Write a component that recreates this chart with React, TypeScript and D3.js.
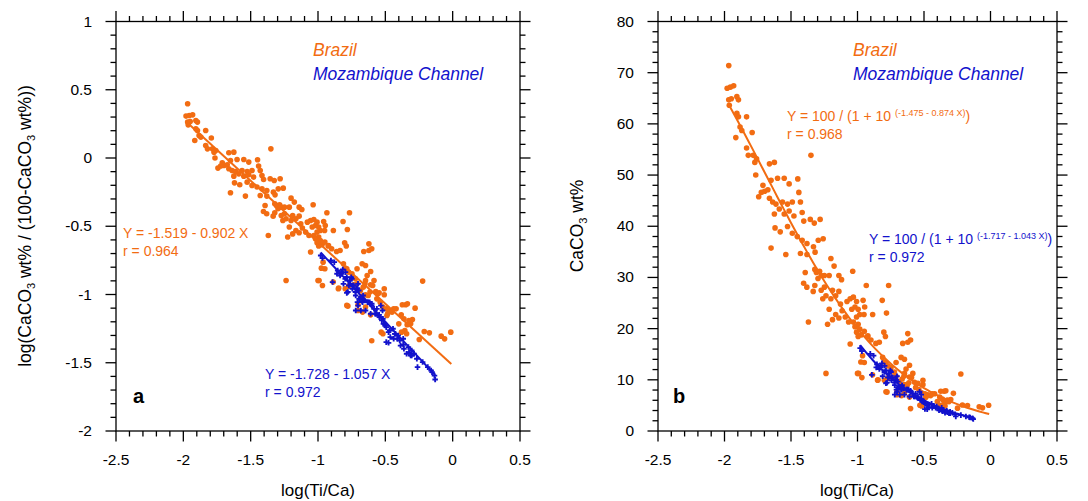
import React from 'react';
import * as d3 from 'd3';

const ORANGE = '#F26C12';
const BLUE = '#1212CC';
const FONT = '"Liberation Sans", Arial, Helvetica, sans-serif';

// Brazil samples: [log(Ti/Ca), log(CaCO3 / (100 - CaCO3))]
const brazilPoints: [number, number][] = [
  [-1.968,0.397],[-1.980,0.307],[-1.956,0.311],[-1.931,0.316],[-1.968,0.263],[-1.949,0.267],[-1.907,0.275],[-1.895,0.263],
  [-1.964,0.243],[-1.907,0.214],[-1.895,0.201],[-1.834,0.201],[-1.883,0.165],[-1.870,0.153],[-1.792,0.146],[-1.915,0.128],
  [-1.834,0.092],[-1.821,0.067],[-1.784,0.067],[-1.759,0.055],[-1.772,0.043],[-1.350,0.067],[-1.662,0.038],[-1.625,0.043],
  [-1.765,0.000],[-1.711,-0.035],[-1.698,-0.055],[-1.674,-0.050],[-1.650,-0.018],[-1.601,-0.011],[-1.551,-0.011],[-1.514,-0.030],
  [-1.449,-0.013],[-1.743,-0.074],[-1.723,-0.059],[-1.662,-0.079],[-1.638,-0.092],[-1.613,-0.099],[-1.564,-0.092],[-1.526,-0.099],
  [-1.490,-0.092],[-1.441,-0.059],[-1.625,-0.133],[-1.588,-0.116],[-1.551,-0.133],[-1.514,-0.123],[-1.478,-0.140],[-1.429,-0.092],
  [-1.416,-0.128],[-1.404,-0.158],[-1.355,-0.152],[-1.325,-0.165],[-1.281,-0.152],[-1.620,-0.182],[-1.581,-0.196],[-1.526,-0.177],
  [-1.490,-0.201],[-1.453,-0.213],[-1.416,-0.226],[-1.650,-0.255],[-1.539,-0.279],[-1.380,-0.238],[-1.331,-0.250],[-1.295,-0.226],
  [-1.258,-0.221],[-1.429,-0.275],[-1.380,-0.279],[-1.319,-0.270],
  [-1.176,-0.323],[-1.140,-0.360],[-1.120,-0.377],[-1.036,-0.343],[-1.200,-0.294],[-1.188,-0.421],[-1.164,-0.445],[-1.140,-0.426],
  [-1.200,-0.458],[-0.934,-0.401],[-0.766,-0.401],[-0.814,-0.465],[-0.782,-0.524],[-0.802,-0.621],[-0.790,-0.645],[-1.079,-0.470],
  [-1.055,-0.458],[-1.031,-0.451],[-1.007,-0.470],[-1.019,-0.495],[-1.043,-0.506],[-0.995,-0.506],[-0.983,-0.531],[-1.007,-0.543],
  [-1.031,-0.568],[-0.995,-0.579],[-1.019,-0.592],[-0.983,-0.604],[-1.007,-0.621],[-0.970,-0.636],[-0.995,-0.645],[-0.958,-0.465],
  [-0.946,-0.495],[-0.951,-0.531],[-0.886,-0.531],[-0.922,-0.641],[-1.128,-0.482],[-1.116,-0.513],[-1.092,-0.543],[-1.067,-0.568],
  [-1.164,-0.531],[-1.140,-0.548],[-1.188,-0.556],[-1.213,-0.506],[-1.225,-0.579],[-1.369,-0.568],[-1.261,-0.458],[-1.237,-0.445],
  [-1.249,-0.408],[-1.273,-0.421],[-1.321,-0.401],[-1.333,-0.426],[-1.381,-0.408],[-1.405,-0.392],[-1.393,-0.348],[-1.297,-0.372],
  [-1.273,-0.360],[-1.249,-0.360],[-1.213,-0.360],[-1.321,-0.336],[-1.309,-0.348],[-1.285,-0.343],
  [-0.622,-0.629],[-0.660,-0.685],[-0.622,-0.678],[-0.601,-0.665],[-0.949,-0.616],[-0.924,-0.645],[-0.899,-0.665],[-0.862,-0.685],
  [-0.836,-0.678],[-1.055,-0.689],[-0.962,-0.763],[-0.949,-0.811],[-0.975,-0.807],[-0.811,-0.775],[-0.798,-0.807],[-0.773,-0.836],
  [-0.786,-0.811],[-0.710,-0.811],[-0.672,-0.775],[-0.647,-0.788],[-0.609,-0.832],[-0.635,-0.861],[-0.647,-0.897],[-0.584,-0.897],
  [-0.609,-0.929],[-0.748,-0.848],[-0.722,-0.885],[-0.710,-0.922],[-0.735,-0.929],[-1.000,-0.897],[-0.887,-0.909],[-0.849,-0.958],
  [-0.798,-0.958],[-0.773,-0.939],[-0.685,-0.971],[-0.672,-1.012],[-0.647,-1.002],[-0.508,-0.958],[-0.508,-1.002],[-0.571,-0.978],
  [-0.546,-0.987],[-0.778,-1.085],[-0.703,-1.075],[-0.647,-1.092],[-0.609,-1.149],[-0.471,-1.117],[-0.420,-1.105],[-0.349,-1.075],
  [-0.483,-1.141],[-0.382,-1.149],
  [-1.237,-0.897],[-0.992,-0.897],[-0.967,-0.934],[-0.846,-0.953],[-0.786,-1.080],[-0.703,-1.117],[-0.669,-1.129],[-0.601,-1.339],
  [-0.374,-1.075],[-0.336,-1.068],[-0.279,-1.100],[-0.362,-1.178],[-0.325,-1.190],[-0.299,-1.183],[-0.312,-1.215],[-0.338,-1.222],
  [-0.223,-0.902],[-0.211,-1.271],[-0.173,-1.281],[-0.085,-1.305],[-0.060,-1.325],[-0.014,-1.276],[-0.248,-1.330],[-0.563,-1.032],
  [-0.538,-1.056],[-0.450,-1.129],[-0.438,-1.105],[-0.400,-1.215],[-0.488,-1.154],[-0.627,-1.007],[-0.614,-0.982],[-0.664,-0.946],
  [-0.651,-0.922],[-0.531,-1.276],[-0.518,-1.288],[-0.355,-1.264],[-0.342,-1.288],[-0.380,-1.276],[-0.594,-0.934],[-0.556,-0.995],
  [-0.518,-1.092],[-0.493,-1.105],
];

// Mozambique Channel samples: [log(Ti/Ca), log(CaCO3 / (100 - CaCO3))]
const mozambiquePoints: [number, number][] = [
  [-0.980,-0.714],[-0.967,-0.733],[-0.904,-0.751],[-0.879,-0.763],[-0.854,-0.824],[-0.828,-0.836],[-0.816,-0.817],[-0.892,-0.909],
  [-0.786,-0.873],[-0.766,-0.897],[-0.753,-0.873],[-0.778,-0.982],[-0.741,-0.934],[-0.715,-0.958],[-0.703,-0.922],[-0.690,-1.032],
  [-0.665,-1.007],[-0.652,-1.044],[-0.627,-1.056],[-0.601,-1.068],[-0.563,-1.105],[-0.551,-1.154],[-0.576,-1.141],[-0.526,-1.190],
  [-0.501,-1.227],[-0.514,-1.215],[-0.476,-1.276],[-0.476,-1.354],[-0.463,-1.312],[-0.438,-1.324],[-0.412,-1.324],[-0.425,-1.288],
  [-0.387,-1.374],[-0.362,-1.398],[-0.324,-1.422],[-0.312,-1.447],[-0.287,-1.434],[-0.261,-1.532],[-0.223,-1.495],[-0.185,-1.532],
  [-0.160,-1.557],[-0.135,-1.594],[-0.130,-1.623],
  [-0.824,-0.848],[-0.836,-0.861],[-0.798,-0.885],[-0.748,-0.885],[-0.760,-0.922],[-0.735,-0.934],[-0.786,-0.988],[-0.710,-0.953],
  [-0.697,-0.971],[-0.722,-0.982],[-0.685,-1.026],[-0.672,-1.051],[-0.660,-1.037],[-0.703,-1.081],[-0.616,-1.056],[-0.601,-1.081],
  [-0.584,-1.105],[-0.647,-1.117],[-0.609,-1.141],[-0.546,-1.149],[-0.521,-1.117],[-0.533,-1.081],
  [-0.859,-0.848],[-0.796,-0.836],[-0.811,-0.922],[-0.771,-0.934],[-0.745,-0.958],[-0.720,-1.007],[-0.695,-1.032],[-0.669,-1.056],
  [-0.707,-1.056],[-0.632,-1.056],[-0.682,-1.117],[-0.720,-1.117],[-0.569,-1.141],[-0.544,-1.166],[-0.518,-1.178],[-0.506,-1.215],
  [-0.493,-1.239],[-0.468,-1.264],[-0.443,-1.251],[-0.430,-1.288],[-0.493,-1.349],[-0.405,-1.300],[-0.393,-1.337],[-0.367,-1.324],
  [-0.367,-1.368],[-0.329,-1.385],[-0.304,-1.410],[-0.342,-1.434],[-0.304,-1.447],[-0.266,-1.471],[-0.153,-1.569],
];

// Regression fits (coefficients as printed) and the x ranges they span
const brazilLinFit = { a: -1.519, b: -0.902, r: 0.964 };
const mozLinFit = { a: -1.728, b: -1.057, r: 0.972 };
const brazilCurveFit = { a: -1.475, b: -0.874, r: 0.968 };
const mozCurveFit = { a: -1.717, b: -1.043, r: 0.972 };
const brazilRange: [number, number] = [-1.97, -0.01];
const mozRange: [number, number] = [-0.98, -0.13];

const xTicks = [-2.5, -2, -1.5, -1, -0.5, 0, 0.5];
const xTickLabels = ['-2.5', '-2', '-1.5', '-1', '-0.5', '0', '0.5'];
const aYTicks = [-2, -1.5, -1, -0.5, 0, 0.5, 1];
const aYTickLabels = ['-2', '-1.5', '-1', '-0.5', '0', '0.5', '1'];
const bYTicks = [0, 10, 20, 30, 40, 50, 60, 70, 80];
const bYTickLabels = ['0', '10', '20', '30', '40', '50', '60', '70', '80'];

const toCaCO3 = (lr: number) => (100 * Math.pow(10, lr)) / (1 + Math.pow(10, lr));

const TOP = 21.5;
const BOTTOM = 431;

function Frame({ x, y, yMinorStep, yTicks, yLabels }: any) {
  const [x0, x1] = x.range();
  const [y0, y1] = y.range();
  const xd = x.domain();
  const yd = y.domain();
  const xMinor = d3.range(Math.round(xd[0] * 10), Math.round(xd[1] * 10) + 1).map((v) => v / 10);
  const yMinor = d3.range(yd[0], yd[1] + yMinorStep / 2, yMinorStep);
  const MAJ = 10.5;
  const MIN = 5.5;
  const isMajorX = (v: number) => xTicks.some((t) => Math.abs(t - v) < 1e-6);
  const isMajorY = (v: number) => yTicks.some((t: number) => Math.abs(t - v) < 1e-6);
  return (
    <g stroke="#000" strokeWidth={1.3} fill="none">
      <rect x={x0} y={y1} width={x1 - x0} height={y0 - y1} />
      {xMinor.map((v, i) => {
        const len = isMajorX(v) ? MAJ : MIN;
        const px = x(v);
        return (
          <g key={'x' + i}>
            <line x1={px} x2={px} y1={y0} y2={y0 + len} />
            <line x1={px} x2={px} y1={y1} y2={y1 - len} />
          </g>
        );
      })}
      {yMinor.map((v: number, i: number) => {
        const len = isMajorY(v) ? MAJ : MIN;
        const py = y(v);
        return (
          <g key={'y' + i}>
            <line x1={x0} x2={x0 - len} y1={py} y2={py} />
            <line x1={x1} x2={x1 + len} y1={py} y2={py} />
          </g>
        );
      })}
      <g stroke="none" fill="#000" fontFamily={FONT} fontSize={15.5}>
        {xTicks.map((t, i) => (
          <text key={'xl' + i} x={x(t)} y={465} textAnchor="middle">{xTickLabels[i]}</text>
        ))}
        {yTicks.map((t: number, i: number) => (
          <text key={'yl' + i} x={x0 - 24} y={y(t) + 5} textAnchor="end">{yLabels[i]}</text>
        ))}
      </g>
    </g>
  );
}

export default function App() {
  const xa = d3.scaleLinear().domain([-2.5, 0.5]).range([116, 520]);
  const ya = d3.scaleLinear().domain([-2, 1]).range([BOTTOM, TOP]);
  const xb = d3.scaleLinear().domain([-2.5, 0.5]).range([658, 1057]);
  const yb = d3.scaleLinear().domain([0, 80]).range([BOTTOM, TOP]);

  const cross = d3.symbol().type(d3.symbolCross).size(17)() as string;

  const linA = (fit: any, range: [number, number]) =>
    d3.line<number>().x((v) => xa(v)).y((v) => ya(fit.a + fit.b * v))(range) as string;
  const curveB = (fit: any, range: [number, number]) => {
    const xs = d3.range(range[0], range[1] + 1e-9, (range[1] - range[0]) / 80);
    return d3
      .line<number>()
      .x((v) => xb(v))
      .y((v) => yb(100 / (1 + Math.pow(10, -(fit.a + fit.b * v)))))(xs) as string;
  };

  return (
    <svg width={1088} height={501} style={{ position: 'absolute', left: 0, top: 0, background: '#fff' }} fontFamily={FONT}>
      <rect x={0} y={0} width={1088} height={501} fill="#fff" />
      {/* Panel a */}
      <Frame x={xa} y={ya} yMinorStep={0.1} yTicks={aYTicks} yLabels={aYTickLabels} />
      <g fill={ORANGE}>
        {brazilPoints.map((p, i) => (
          <circle key={i} cx={xa(p[0])} cy={ya(p[1])} r={2.8} />
        ))}
      </g>
      <path d={linA(brazilLinFit, brazilRange)} stroke={ORANGE} strokeWidth={2} fill="none" />
      <g fill={BLUE}>
        {mozambiquePoints.map((p, i) => (
          <path key={i} d={cross} transform={`translate(${xa(p[0])},${ya(p[1])})`} />
        ))}
      </g>
      <path d={linA(mozLinFit, mozRange)} stroke={BLUE} strokeWidth={2} fill="none" />
      <text x={313} y={56} fill={ORANGE} fontSize={17.5} fontStyle="italic">Brazil</text>
      <text x={313} y={80} fill={BLUE} fontSize={17.5} fontStyle="italic">Mozambique Channel</text>
      <text x={123} y={238} fill={ORANGE} fontSize={14}>Y = -1.519 - 0.902 X</text>
      <text x={123} y={256} fill={ORANGE} fontSize={14}>r = {brazilLinFit.r.toFixed(3)}</text>
      <text x={265} y={379} fill={BLUE} fontSize={14}>Y = -1.728 - 1.057 X</text>
      <text x={265} y={397} fill={BLUE} fontSize={14}>r = {mozLinFit.r.toFixed(3)}</text>
      <text x={133} y={403} fill="#000" fontSize={20} fontWeight="bold">a</text>
      <text x={318} y={496} textAnchor="middle" fontSize={17}>log(Ti/Ca)</text>
      <text transform="translate(31,226) rotate(-90)" textAnchor="middle" fontSize={17.5}>
        log(CaCO<tspan fontSize={11} dy={4}>3</tspan><tspan dy={-4}> wt% / (100-CaCO</tspan><tspan fontSize={11} dy={4}>3</tspan><tspan dy={-4}> wt%))</tspan>
      </text>

      {/* Panel b */}
      <Frame x={xb} y={yb} yMinorStep={2} yTicks={bYTicks} yLabels={bYTickLabels} />
      <g fill={ORANGE}>
        {brazilPoints.map((p, i) => (
          <circle key={i} cx={xb(p[0])} cy={yb(toCaCO3(p[1]))} r={2.8} />
        ))}
      </g>
      <path d={curveB(brazilCurveFit, brazilRange)} stroke={ORANGE} strokeWidth={2} fill="none" />
      <g fill={BLUE}>
        {mozambiquePoints.map((p, i) => (
          <path key={i} d={cross} transform={`translate(${xb(p[0])},${yb(toCaCO3(p[1]))})`} />
        ))}
      </g>
      <path d={curveB(mozCurveFit, mozRange)} stroke={BLUE} strokeWidth={2} fill="none" />
      <text x={853} y={56} fill={ORANGE} fontSize={17.5} fontStyle="italic">Brazil</text>
      <text x={853} y={80} fill={BLUE} fontSize={17.5} fontStyle="italic">Mozambique Channel</text>
      <text x={787} y={121} fill={ORANGE} fontSize={14}>
        Y = 100 / (1 + 10 <tspan fontSize={9} dy={-5}>(-1.475 - 0.874 X)</tspan><tspan dy={5}>)</tspan>
      </text>
      <text x={787} y={139} fill={ORANGE} fontSize={14}>r = {brazilCurveFit.r.toFixed(3)}</text>
      <text x={869} y={244} fill={BLUE} fontSize={14}>
        Y = 100 / (1 + 10 <tspan fontSize={9} dy={-5}>(-1.717 - 1.043 X)</tspan><tspan dy={5}>)</tspan>
      </text>
      <text x={869} y={262} fill={BLUE} fontSize={14}>r = {mozCurveFit.r.toFixed(3)}</text>
      <text x={673} y={403} fill="#000" fontSize={20} fontWeight="bold">b</text>
      <text x={857} y={496} textAnchor="middle" fontSize={17}>log(Ti/Ca)</text>
      <text transform="translate(583,226) rotate(-90)" textAnchor="middle" fontSize={17.5}>
        CaCO<tspan fontSize={11} dy={4}>3</tspan><tspan dy={-4}> wt%</tspan>
      </text>
    </svg>
  );
}
